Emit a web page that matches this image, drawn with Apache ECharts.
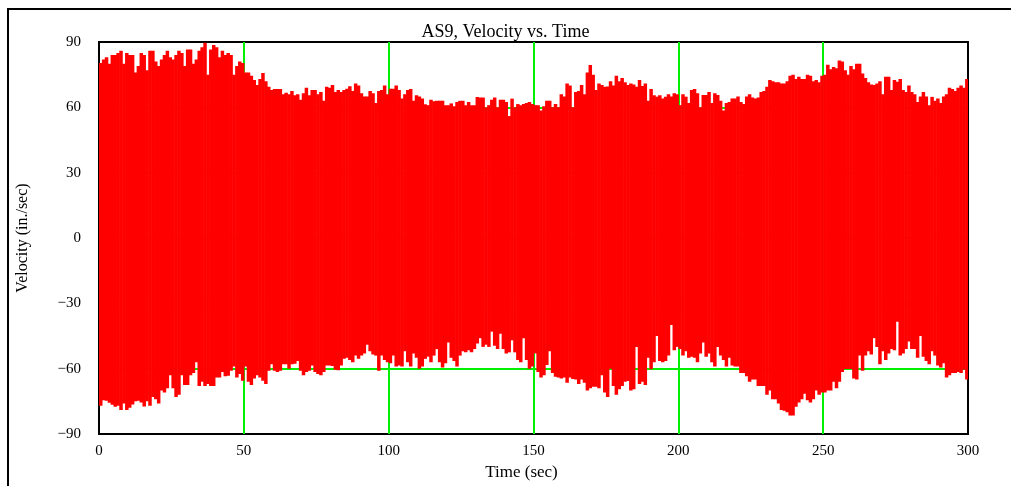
<!DOCTYPE html>
<html>
<head>
<meta charset="utf-8">
<script src="https://cdn.jsdelivr.net/npm/echarts@6/dist/echarts.min.js"></script>
<style>
html,body{margin:0;padding:0;background:#fff;}
#chart{width:1011px;height:486px;}
</style>
</head>
<body>
<div id="chart"></div>
<script>
// Time axis: one column per second, starting at t = 0
const xTicks = [0, 50, 100, 150, 200, 250, 300];
const yTicks = [-90, -60, -30, 0, 30, 60, 90];

// Upper envelope (peak velocity, in./sec) per 1-second column
const upperPeak = [
  80.4, 82, 83, 80, 84, 84, 85, 86, 80, 85,
  84, 84, 76, 79, 85, 84, 77, 86, 86, 81,
  79, 82, 84, 86, 83, 82, 84, 86, 85, 79,
  86.6, 86.6, 80, 82, 86, 87.6, 89.7, 75, 86.6, 88.6,
  87.6, 83, 86, 84, 85, 84, 75, 79, 81, 80.4,
  76, 76, 74.5, 72.5, 70.3, 73, 75.8, 72, 69.5, 68,
  68.4, 68.4, 68.4, 66, 66.7, 66, 67.5, 65.5, 66, 63.5,
  66.5, 69, 65.5, 68, 68, 66, 67, 63, 69.5, 69,
  70.3, 67, 68, 67, 68, 68.5, 69.7, 67.5, 71, 70,
  66.5, 65, 65, 67.5, 66.5, 62, 67.5, 68, 70, 66,
  68.5, 68.5, 70, 68, 64, 66, 68, 68.4, 63, 65.5,
  65, 64, 61.4, 61, 63.5, 62.8, 63, 63, 63, 61,
  61, 61.8, 60.5, 62.5, 63, 63, 61, 62.5, 61, 61,
  64.7, 64.5, 64.5, 60, 61, 63.5, 64.5, 60, 63.5, 63.5,
  62.5, 56, 64, 60, 61.5, 61, 61.5, 62, 62.5, 61.5,
  61, 61, 58.5, 60.5, 63, 63, 60, 61.5, 60, 66,
  65, 71, 70, 60, 67, 67.5, 70.3, 66, 76, 79.4,
  75, 68, 71, 70.3, 69.5, 69.6, 72, 70, 74.5, 72,
  73.5, 71.5, 70.3, 71, 70.5, 69.5, 72.5, 69.8, 71, 63,
  68.4, 65.5, 64.9, 65.5, 64, 64.9, 66, 65, 66.5, 66,
  61, 66, 64.9, 62, 68, 68.4, 66.5, 60, 65.7, 65.7,
  67, 62, 66.5, 65.7, 63, 58.5, 62, 62.5, 64, 64,
  65, 62.5, 61.5, 65, 66, 64.5, 64, 64.5, 67, 67.5,
  69.5, 72.5, 72, 71.5, 71.5, 71, 71, 72, 74.5, 75,
  73, 74, 73, 73, 75, 74.5, 72, 72.5, 71.5, 74.5,
  75, 79.5, 77.5, 78.5, 78, 81.5, 81, 77, 75, 79,
  77.5, 80, 80, 75.5, 73.5, 71.5, 70.5, 70.3, 71, 72,
  66, 74, 74, 68, 72.5, 71.7, 73, 68, 67, 70,
  67, 66, 62.5, 65, 67, 65, 61, 64.8, 63, 64,
  62, 65, 66, 69, 68.4, 67.5, 69, 70, 69, 73
];

// Lower envelope (trough velocity, in./sec) per 1-second column
const lowerPeak = [
  -77, -74.5, -74.7, -75.7, -76.6, -77.5, -77, -79, -76, -79,
  -78, -76.5, -75, -74.7, -75.5, -77.4, -75, -77, -73, -74,
  -76, -70, -71, -69, -63, -69, -73, -72, -63, -67.5,
  -67.5, -63, -62, -57, -68, -66, -68, -67, -68, -68,
  -64, -64, -61.5, -63.5, -63.3, -61, -59, -64, -62.5, -65.5,
  -59, -66, -67.5, -64.5, -63, -64, -65.5, -67, -61, -58,
  -61, -61.5, -61, -58, -58, -60, -58, -57.7, -56.5, -61,
  -63, -61.5, -61, -58.5, -61.5, -62.5, -63, -61.5, -58.5, -58.5,
  -58.8, -60.5, -60.7, -58.5, -55.5, -55, -56, -57, -54, -55.5,
  -54, -53, -49, -52, -53.5, -54, -61, -54, -56, -57,
  -57.5, -54, -59, -58.5, -59, -52, -57, -59, -53, -55,
  -60, -59, -55.5, -54.5, -57, -54, -51, -57, -59.5, -57.5,
  -48, -55, -56.5, -59, -54, -52, -52.5, -51.5, -52.5, -51,
  -48.5, -46, -50, -49, -50, -43, -49.5, -51, -44, -51,
  -53, -52.5, -47, -52.5, -56, -57, -46, -56, -60, -59,
  -53, -61.5, -64, -63, -58.3, -52, -62, -63.7, -64, -64.5,
  -64, -66.5, -64, -64.7, -65, -67, -65, -66.5, -70, -69,
  -68.3, -68.3, -69, -63, -71, -73, -60, -68, -72, -69.5,
  -68, -66, -65.7, -70, -69.5, -50, -67, -66, -67.5, -55,
  -60.3, -57, -45, -56.5, -57, -56.5, -54, -40, -51.5, -50,
  -51, -54, -52, -55, -54.5, -55, -57, -53, -48, -54.5,
  -53, -57, -59, -50, -54, -56, -59, -55, -58.5, -59,
  -59, -62, -62, -63.5, -66, -65, -65, -68, -68, -68,
  -72, -70, -74, -74, -76, -79, -79.3, -80, -81.5, -81.5,
  -77.5, -75.5, -74, -71.5, -74.5, -75.5, -74, -70, -72, -71,
  -71, -70, -70, -66, -69, -66, -61.5, -60.2, -60.2, -60.2,
  -64.5, -65, -54, -61, -54, -52, -53.5, -46, -50, -58,
  -52, -56, -53, -51, -51.5, -38.5, -54, -53, -51, -47.5,
  -51, -51, -55, -45, -54.5, -56.5, -58, -52, -54, -58.5,
  -59.5, -57.5, -64, -63, -62, -62, -61.5, -62, -60.5, -65
];

const titleText = 'AS9, Velocity vs. Time';
const xName = 'Time (sec)';
const yName = 'Velocity (in./sec)';

const FONT = "'Liberation Serif', 'Times New Roman', 'DejaVu Serif', serif";
const GREEN = '#00f000';

const seriesData = upperPeak.map(function (u, i) { return [i, u, lowerPeak[i]]; });

const chart = echarts.init(document.getElementById('chart'), null, { renderer: 'canvas' });

chart.setOption({
  animation: false,
  backgroundColor: '#ffffff',
  title: {
    text: titleText,
    left: 'center',
    top: 18,
    textStyle: { fontFamily: FONT, fontSize: 18, fontWeight: 'normal', color: '#000' }
  },
  graphic: [{
    type: 'rect',
    silent: true,
    shape: { x: 8, y: 9, width: 1200, height: 800 },
    style: { fill: null, stroke: '#000', lineWidth: 2 }
  }],
  grid: {
    left: 99, top: 42, width: 869, height: 392,
    show: true, borderColor: '#000', borderWidth: 2, backgroundColor: 'transparent'
  },
  xAxis: {
    type: 'value',
    min: xTicks[0], max: xTicks[xTicks.length - 1], interval: 50,
    name: xName,
    nameLocation: 'middle',
    nameGap: 30,
    nameTextStyle: { fontFamily: FONT, fontSize: 17, color: '#000', padding: [0, 24, 0, 0] },
    axisLine: { show: false },
    axisTick: { show: false },
    axisLabel: { fontFamily: FONT, fontSize: 15, color: '#000', margin: 10 },
    splitLine: { show: true, showMinLine: false, showMaxLine: false, lineStyle: { color: GREEN, width: 2 } }
  },
  yAxis: {
    type: 'value',
    min: yTicks[0], max: yTicks[yTicks.length - 1], interval: 30,
    name: yName,
    nameLocation: 'middle',
    nameGap: 68,
    nameTextStyle: { fontFamily: FONT, fontSize: 16, color: '#000' },
    axisLine: { show: false },
    axisTick: { show: false },
    axisLabel: {
      fontFamily: FONT, fontSize: 15, color: '#000', margin: 18,
      formatter: function (v) { return String(v).replace('-', '\u2212'); }
    },
    splitLine: { show: true, showMinLine: false, showMaxLine: false, lineStyle: { color: GREEN, width: 2 } }
  },
  series: [{
    type: 'custom',
    clip: true,
    encode: { x: 0, y: [1, 2] },
    data: seriesData,
    renderItem: function (params, api) {
      const t = api.value(0);
      const hi = api.value(1);
      const lo = api.value(2);
      const p0 = api.coord([t, hi]);
      const p1 = api.coord([t + 1, lo]);
      return {
        type: 'rect',
        shape: { x: p0[0], y: p0[1], width: p1[0] - p0[0] + 0.6, height: p1[1] - p0[1] },
        style: { fill: '#ff0000' }
      };
    }
  }]
});
</script>
</body>
</html>
